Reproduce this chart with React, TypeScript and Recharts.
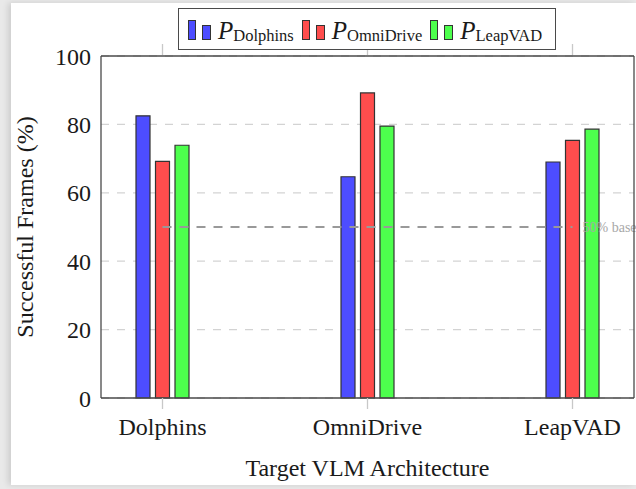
import {
  BarChart,
  Bar,
  XAxis,
  YAxis,
  CartesianGrid,
  ReferenceLine,
} from "recharts";

const categories = ["Dolphins", "OmniDrive", "LeapVAD"];
const pDolphins = [82.5, 64.7, 69.0];
const pOmniDrive = [69.2, 89.2, 75.3];
const pLeapVAD = [73.9, 79.5, 78.6];
const yTicks = [0, 20, 40, 60, 80, 100];
const baseline = 50;
const X_DOMAIN: [number, number] = [-0.3, 2.3];

const SERIES = [
  { key: "pDolphins", sub: "Dolphins", fill: "#4d4dff" },
  { key: "pOmniDrive", sub: "OmniDrive", fill: "#ff4d4d" },
  { key: "pLeapVAD", sub: "LeapVAD", fill: "#4dff4d" },
];

const data = categories.map((name, i) => ({
  x: i,
  name,
  pDolphins: pDolphins[i],
  pOmniDrive: pOmniDrive[i],
  pLeapVAD: pLeapVAD[i],
}));

const FONT = "'Liberation Serif', 'Times New Roman', serif";
const TICK_STYLE = { fontSize: 24, fill: "#1a1a1a", fontFamily: FONT };
const EDGE = "#4a4a4a";
const BAR_STROKE = "#333";

const LegendBox = () => (
  <div
    style={{
      position: "absolute",
      left: 178,
      top: 8,
      width: 378,
      height: 42,
      boxSizing: "border-box",
      border: `1px solid ${EDGE}`,
      background: "#fff",
      display: "flex",
      alignItems: "center",
      paddingLeft: 9,
      fontFamily: FONT,
      color: "#1a1a1a",
    }}
  >
    {SERIES.map((s) => (
      <div key={s.key} style={{ display: "flex", alignItems: "flex-end", marginRight: 8, height: 21 }}>
        <span style={{ width: 8, height: 20, background: s.fill, border: `1px solid ${BAR_STROKE}`, boxSizing: "border-box", marginRight: 6 }} />
        <span style={{ width: 9, height: 15, background: s.fill, border: `1px solid ${BAR_STROKE}`, boxSizing: "border-box", marginRight: 7 }} />
        <span style={{ fontSize: 25, fontStyle: "italic", lineHeight: "19px" }}>P</span>
        <span style={{ fontSize: 16.5, lineHeight: "18px", position: "relative", top: 5 }}>{s.sub}</span>
      </div>
    ))}
  </div>
);

const YTitle = (props: any) => {
  const { viewBox } = props;
  const cx = 25;
  const cy = viewBox.y + viewBox.height / 2;
  return (
    <text
      x={cx}
      y={cy}
      transform={`rotate(-90, ${cx}, ${cy})`}
      textAnchor="middle"
      dominantBaseline="central"
      style={{ fontSize: 24, fill: "#1a1a1a", fontFamily: FONT }}
    >
      Successful Frames (%)
    </text>
  );
};

const BaseLabel = (props: any) => {
  const { viewBox } = props;
  return (
    <text
      x={viewBox.x + viewBox.width + 10}
      y={viewBox.y}
      dominantBaseline="central"
      style={{ fontSize: 14, fill: "#a8a8a8", fontFamily: FONT }}
    >
      50% base
    </text>
  );
};

export default function App() {
  return (
    <div style={{ position: "absolute", left: 0, top: 0, width: 636, height: 489, background: "#e9e9e9", overflow: "hidden" }}>
      <div
        style={{
          position: "absolute",
          left: 11,
          top: 3,
          width: 625,
          height: 482,
          background: "#fff",
          boxShadow: "-3px 0 6px rgba(0,0,0,0.12)",
        }}
      />
      <div style={{ position: "absolute", left: 0, top: 0 }}>
        <BarChart
          width={636}
          height={489}
          data={data}
          margin={{ top: 56, right: 2, bottom: 0, left: 0 }}
          barSize={14}
          barGap={5.5}
        >
          <CartesianGrid
            vertical={false}
            stroke="#d3d3d3"
            strokeWidth={1.3}
            strokeDasharray="8 8"
          />
          <XAxis
            dataKey="x"
            type="number"
            domain={X_DOMAIN}
            ticks={[0, 1, 2]}
            tickFormatter={(v) => categories[v] ?? ""}
            height={91}
            tickSize={11}
            tickMargin={9}
            tick={TICK_STYLE}
            tickLine={{ stroke: "#c8c8c8", strokeWidth: 1.3 }}
            axisLine={{ stroke: EDGE, strokeWidth: 1.3 }}
            label={{
              value: "Target VLM Architecture",
              position: "insideBottom",
              offset: 13,
              style: { fontSize: 24, fill: "#1a1a1a", fontFamily: FONT },
            }}
          />
          <YAxis
            domain={[0, 100]}
            ticks={yTicks}
            width={101}
            tickSize={0}
            tickMargin={10}
            tickLine={false}
            tick={TICK_STYLE}
            axisLine={{ stroke: EDGE, strokeWidth: 1.3 }}
            label={<YTitle />}
          />
          {SERIES.map((s) => (
            <Bar
              key={s.key}
              dataKey={s.key}
              fill={s.fill}
              stroke={BAR_STROKE}
              strokeWidth={1.2}
              isAnimationActive={false}
            />
          ))}
          <ReferenceLine
            segment={[
              { x: 0, y: baseline },
              { x: 2, y: baseline },
            ]}
            stroke="#999"
            strokeWidth={2}
            strokeDasharray="9 8"
            label={<BaseLabel />}
          />
          {/* top and right frame, with the outward category ticks on top */}
          <ReferenceLine y={100} stroke={EDGE} strokeWidth={1.3} ifOverflow="visible" />
          <ReferenceLine x={X_DOMAIN[1]} stroke={EDGE} strokeWidth={1.3} ifOverflow="visible" />
          {categories.map((c, i) => (
            <ReferenceLine
              key={c}
              segment={[
                { x: i, y: 100.3 },
                { x: i, y: 103.5 },
              ]}
              stroke="#c8c8c8"
              strokeWidth={1.3}
              ifOverflow="visible"
            />
          ))}
        </BarChart>
      </div>
      <LegendBox />
    </div>
  );
}
